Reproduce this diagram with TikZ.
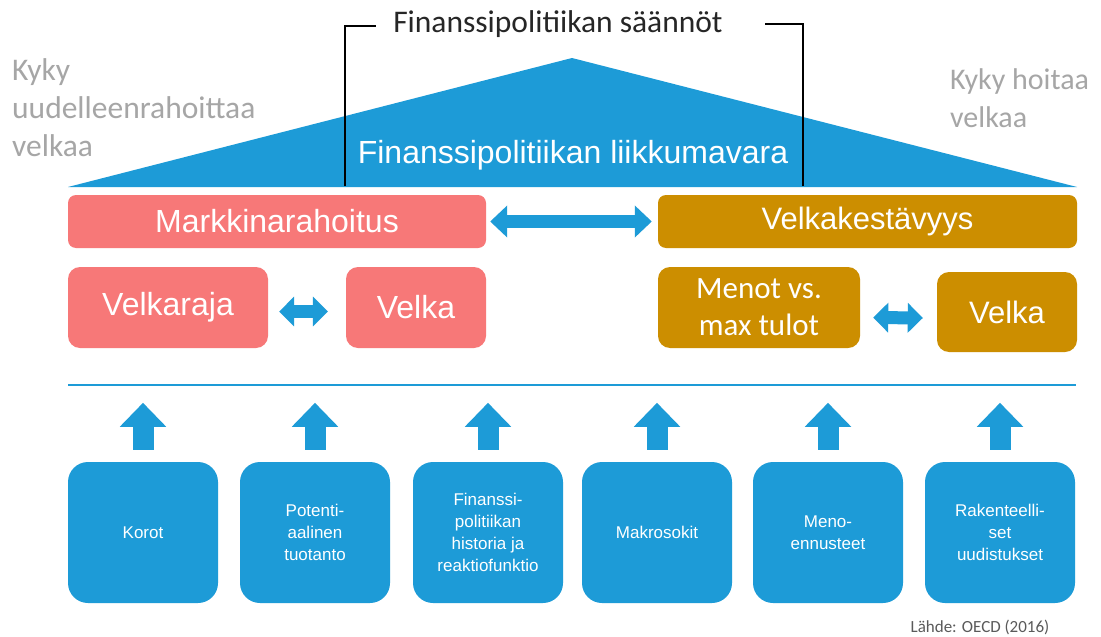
\documentclass[tikz,border=0pt]{standalone}
\usepackage{fontspec}
\setmainfont{Liberation Sans}
\newfontfamily\arialf{Liberation Sans}
\newfontfamily\calib{Carlito}
\usetikzlibrary{arrows.meta}
\definecolor{bblue}{RGB}{29,155,215}
\definecolor{ppink}{RGB}{247,120,120}
\definecolor{ggold}{RGB}{204,142,0}
\definecolor{lgray}{RGB}{166,166,166}
\definecolor{dgray}{RGB}{38,38,38}
\definecolor{sgray}{RGB}{90,90,90}
\tikzset{
  pinkbox/.style={fill=ppink, draw=none, rounded corners=8pt, inner sep=0pt, text=white, align=center},
  goldbox/.style={fill=ggold, draw=none, rounded corners=8pt, inner sep=0pt, text=white, align=center},
  bluebox/.style={fill=bblue, draw=none, rounded corners=20pt, inner sep=0pt, text=white, align=center,
     minimum width=150pt, minimum height=141pt, font=\arialf\fontsize{17}{22}\selectfont},
  bigdarrow/.style={draw=bblue, line width=13pt, {Triangle[width=31pt,length=17pt]}-{Triangle[width=31pt,length=17pt]}},
  smalldarrow/.style={draw=bblue, line width=13pt, {Triangle[width=29pt,length=15pt]}-{Triangle[width=29pt,length=15pt]}},
  uparrow/.style={draw=bblue, line width=21pt, -{Triangle[width=45pt,length=24pt]}},
  bracket/.style={draw=black, line width=1.3pt},
  sidelabel/.style={text=lgray, align=left, inner sep=0pt},
}
\begin{document}
\begin{tikzpicture}[x=1pt,y=-1pt]
\useasboundingbox[fill=white] (0,0) rectangle (1101,637);
% roof triangle
\fill[bblue] (68,187) -- (572,58) -- (1077,187) -- cycle;
\node[text=white, font=\arialf\fontsize{32}{36}\selectfont, inner sep=0pt] (liik) at (573,155) {Finanssipolitiikan liikkumavara};
% title and bracket
\node[text=dgray, font=\calib\fontsize{31.5}{36}\selectfont, inner sep=0pt] (rules) at (558,24) {Finanssipolitiikan säännöt};
\coordinate (bl) at (345,186);
\coordinate (br) at (803,186);
\draw[bracket] (bl) -- (345,26) -- (376,26);
\draw[bracket] (br) -- (803,24) -- (765,24);
% side labels
\node[sidelabel, font=\calib\fontsize{31.5}{38}\selectfont, anchor=north west] (kl) at (12,58) {Kyky\\uudelleenrahoittaa\\velkaa};
\node[sidelabel, font=\calib\fontsize{30}{38}\selectfont, anchor=north west] (kr) at (950,68) {Kyky hoitaa\\velkaa};
% top boxes
\node[pinkbox, minimum width=418pt, minimum height=53pt, font=\arialf\fontsize{32}{36}\selectfont] (mr) at (277,221.5) {Markkinarahoitus};
\node[goldbox, minimum width=419pt, minimum height=53pt, font=\arialf\fontsize{31}{36}\selectfont] (vk) at (867.5,221.5) {Velkakestävyys};
\draw[bigdarrow] ([xshift=4pt]mr.east) -- ([xshift=-6pt]vk.west);
% second row
\node[pinkbox, rounded corners=12pt, minimum width=200pt, minimum height=81pt, font=\arialf\fontsize{32}{36}\selectfont] (vr) at (168,307.5) {Velkaraja};
\node[pinkbox, rounded corners=12pt, minimum width=140pt, minimum height=81pt, font=\arialf\fontsize{32}{36}\selectfont] (vl) at (416,307.5) {Velka};
\node[goldbox, rounded corners=12pt, minimum width=202pt, minimum height=81pt, font=\calib\fontsize{31}{37}\selectfont] (mt) at (759,307.5) {Menot vs.\\max tulot};
\node[goldbox, rounded corners=12pt, minimum width=140pt, minimum height=80pt, font=\arialf\fontsize{31}{36}\selectfont] (vr2) at (1007,312) {Velka};
\draw[smalldarrow] ([xshift=11pt,yshift=-4pt]vr.east) -- ([xshift=-18pt,yshift=-4pt]vl.west);
\draw[smalldarrow] ([xshift=13pt,yshift=-10pt]mt.east) -- ([xshift=-14pt,yshift=-6pt]vr2.west);
% separator line
\coordinate (ll) at (68,385);
\coordinate (lr) at (1076,385);
\draw[bblue, line width=2pt] (ll) -- (lr);
% bottom boxes
\node[bluebox] (b1) at (143,532.5) {Korot};
\node[bluebox] (b2) at (315,532.5) {Potenti-\\aalinen\\tuotanto};
\node[bluebox] (b3) at (488,532.5) {Finanssi-\\politiikan\\historia ja\\reaktiofunktio};
\node[bluebox] (b4) at (657,532.5) {Makrosokit};
\node[bluebox] (b5) at (828,532.5) {Meno-\\ennusteet};
\node[bluebox] (b6) at (1000,532.5) {Rakenteelli-\\set\\uudistukset};
\foreach \b in {b1,b2,b3,b4,b5,b6}{
  \draw[uparrow] ([yshift=12pt]\b.north) -- ([yshift=59pt]\b.north);
}
\node[text=sgray, font=\calib\fontsize{17}{20}\selectfont, inner sep=0pt] (src) at (980,627) {Lähde: OECD (2016)};
\end{tikzpicture}
\end{document}
